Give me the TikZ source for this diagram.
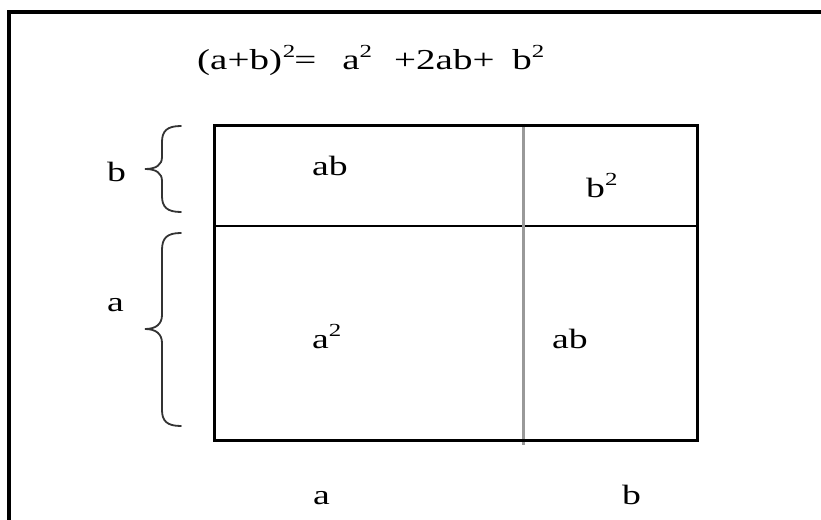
\documentclass[tikz,border=0pt]{standalone}
\usepackage{fontspec}
\setmainfont{Liberation Serif}[FakeStretch=1.35]
\newcommand\mysup{\raisebox{12bp}{\fontsize{18.5}{18.5}\selectfont 2}}
\tikzset{
  lbl/.style={anchor=base west, inner sep=0pt, font=\fontsize{28}{32}\selectfont},
  eqlbl/.style={anchor=base west, inner sep=0pt, font=\fontsize{29}{33}\selectfont},
  frameline/.style={line width=3.2bp, black},
  boxline/.style={line width=3bp, black},
  divline/.style={line width=1.5bp, black},
  greyline/.style={line width=2.6bp, gray!80},
  brace/.style={line width=1.8bp, black!80, line cap=round}
}
\begin{document}
\begin{tikzpicture}[x=1bp,y=-1bp]
\useasboundingbox (0,0) rectangle (821,520);
% outer frame (only left and top visible)
\coordinate (fbl) at (9,530);
\coordinate (ftl) at (9,12);
\coordinate (ftr) at (830,12);
\draw[frameline] (fbl) -- (ftl) -- (ftr);
% equation
\node[eqlbl] (eq) at (197,70) {(a+b)\hspace{1bp}\mysup\hspace{-1bp}=\hspace{26bp}a\mysup\hspace{22bp}+2ab+\hspace{18bp}b\mysup};
% square
\coordinate (tl) at (214.5,126);
\coordinate (br) at (697,440);
\coordinate (ml) at (214.5,226);
\coordinate (mr) at (697,226);
\coordinate (gt) at (523.5,124);
\coordinate (gb) at (523.5,445);
\draw[divline] (ml) -- (mr);
\draw[greyline] (gt) -- (gb);
\draw[boxline] (tl) rectangle (br);
% cell labels
\node[lbl] (ab1) at (312,176) {ab};
\node[lbl] (b2) at (586,198) {b\mysup};
\node[lbl] (a2) at (312,348) {a\mysup};
\node[lbl] (ab2) at (552,348) {ab};
% bottom labels
\node[lbl] (la) at (313,504) {a};
\node[lbl] (lb) at (622,504) {b};
% left labels
\node[lbl] (sb) at (107,182) {b};
\node[lbl] (sa) at (107,312) {a};
% braces
\draw[brace] (181,126) .. controls (167,126) and (162,131) .. (162,142)
  -- (162,157) .. controls (162,165) and (156,169) .. (145,169)
  .. controls (156,169) and (162,173) .. (162,181)
  -- (162,196) .. controls (162,207) and (167,212) .. (181,212);
\draw[brace] (181,233) .. controls (167,233) and (162,238) .. (162,250)
  -- (162,315) .. controls (162,324) and (156,329) .. (145,329)
  .. controls (156,329) and (162,334) .. (162,343)
  -- (162,410) .. controls (162,421) and (167,426) .. (181,426);
\end{tikzpicture}
\end{document}
